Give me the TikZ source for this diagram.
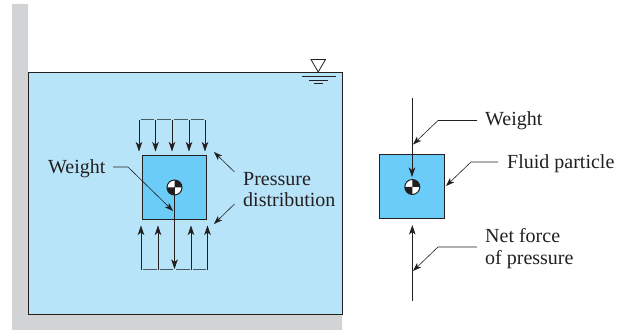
\documentclass[tikz,border=0pt]{standalone}
\usepackage{fontspec}
\setmainfont{Liberation Serif}
\usetikzlibrary{arrows.meta}
\definecolor{water}{HTML}{B8E4FA}
\definecolor{partc}{HTML}{6BCDF7}
\definecolor{wallc}{HTML}{D1D3D4}
\definecolor{ink}{HTML}{231F20}
\definecolor{barc}{HTML}{4A5A64}
\tikzset{
 x=1pt,y=-1pt,
 lbl/.style={font=\fontsize{20}{22}\selectfont,text=ink,inner sep=0pt,anchor=base west,align=left},
 particle/.style={draw=ink,line width=1.1pt,fill=partc},
 force/.style={draw=ink,line width=0.8pt,-{Stealth[length=9.5pt,width=6.5pt,inset=2.5pt]}},
 leader/.style={draw=ink,line width=0.6pt,-{Stealth[length=8.5pt,width=6pt,inset=2.2pt]}},
 plain/.style={draw=ink,line width=0.8pt},
 bar/.style={draw=barc,line width=1pt,shorten <=1.5pt,shorten >=1.5pt},
}
\begin{document}
\begin{tikzpicture}
\useasboundingbox (0,0) rectangle (622,331);
% wall and water
\fill[wallc] (12,4) -- (28,4) -- (28,314) -- (342,314) -- (342,330) -- (12,330) -- cycle;
\node[draw=ink,line width=0.8pt,fill=water,minimum width=314.5pt,minimum height=242pt,inner sep=0pt,anchor=north west] (tank) at (27.5,72) {};
% water level symbol
\draw[plain] (311,59.5) -- (325.5,59.5) -- (318.2,72) -- cycle;
\draw[plain] (302,76) -- (335.5,76);
\draw[plain] (309,80) -- (328,80);
\draw[plain] (314,83.5) -- (323,83.5);
% left particle
\node[particle,minimum width=64.5pt,minimum height=64pt,inner sep=0pt] (pL) at (174.3,187.2) {};
\coordinate (cL) at (174.5,187.5);
\fill[white] (cL) circle[radius=7.5];
\fill[ink] (cL) -- ++(-7.5,0) arc[start angle=180,end angle=90,radius=7.5] -- cycle;
\fill[ink] (cL) -- ++(7.5,0) arc[start angle=0,end angle=-90,radius=7.5] -- cycle;
\draw[ink,line width=1pt] (cL) circle[radius=7.5];
% top pressure arrows
\foreach \n/\x in {a/139,b/155.5,c/172,d/189,e/205}{
  \coordinate (t\n) at (\x,120);
  \coordinate (u\n) at (\x,151.5);
  \draw[force] (t\n) -- (u\n);
}
\foreach \p/\q in {a/b,b/c,c/d,d/e}{
  \draw[bar] (t\p) -- (t\q);
}
% bottom pressure arrows
\foreach \n/\x in {a/141,b/158,d/191,e/207.5}{
  \coordinate (v\n) at (\x,270);
  \coordinate (w\n) at (\x,225.5);
  \draw[force] (v\n) -- (w\n);
}
\coordinate (vc) at (174.5,270);
\draw[bar] (va) -- (vb);
\draw[bar] (vb) -- (vc);
\draw[bar] (vc) -- (vd);
\draw[bar] (vd) -- (ve);
\coordinate (vcE) at (174.5,269);
\draw[force] (cL) -- (vcE);
% left labels
\node[lbl] (wL) at (48,174) {Weight};
\node[lbl] (pr) at (243,186) {Pressure};
\node[lbl] (di) at (243,207) {distribution};
\coordinate (wLa) at (113,167);
\coordinate (wLb) at (128,167);
\coordinate (wLc) at (173,211);
\draw[leader] (wLa) -- (wLb) -- (wLc);
\coordinate (prA) at (234.5,172);
\coordinate (prB) at (214,152);
\draw[leader] (prA) -- (prB);
\coordinate (diA) at (234.5,204);
\coordinate (diB) at (214,224);
\draw[leader] (diA) -- (diB);
% right particle
\node[particle,minimum width=64.5pt,minimum height=64pt,inner sep=0pt] (pR) at (412,186.7) {};
\coordinate (cR) at (412.3,187);
\fill[white] (cR) circle[radius=7.5];
\fill[ink] (cR) -- ++(-7.5,0) arc[start angle=180,end angle=90,radius=7.5] -- cycle;
\fill[ink] (cR) -- ++(7.5,0) arc[start angle=0,end angle=-90,radius=7.5] -- cycle;
\draw[ink,line width=1pt] (cR) circle[radius=7.5];
\coordinate (wTop) at (412,98);
\coordinate (wEnd) at (412,177);
\draw[force] (wTop) -- (wEnd);
\coordinate (nBot) at (412.3,301);
\coordinate (nEnd) at (412.3,225);
\draw[force] (nBot) -- (nEnd);
% right labels
\node[lbl] (wR) at (485,125.5) {Weight};
\node[lbl] (fl) at (507,169) {Fluid particle};
\node[lbl] (nf) at (485,243) {Net force};
\node[lbl] (op) at (485,264.5) {of pressure};
\coordinate (a1) at (477,120.5);
\coordinate (a2) at (438,120.5);
\coordinate (a3) at (413,144.5);
\draw[leader] (a1) -- (a2) -- (a3);
\coordinate (b1) at (498,162);
\coordinate (b2) at (471,162);
\coordinate (b3) at (446,186);
\draw[leader] (b1) -- (b2) -- (b3);
\coordinate (c1) at (477,247);
\coordinate (c2) at (438,247);
\coordinate (c3) at (413,271);
\draw[leader] (c1) -- (c2) -- (c3);
\end{tikzpicture}
\end{document}
